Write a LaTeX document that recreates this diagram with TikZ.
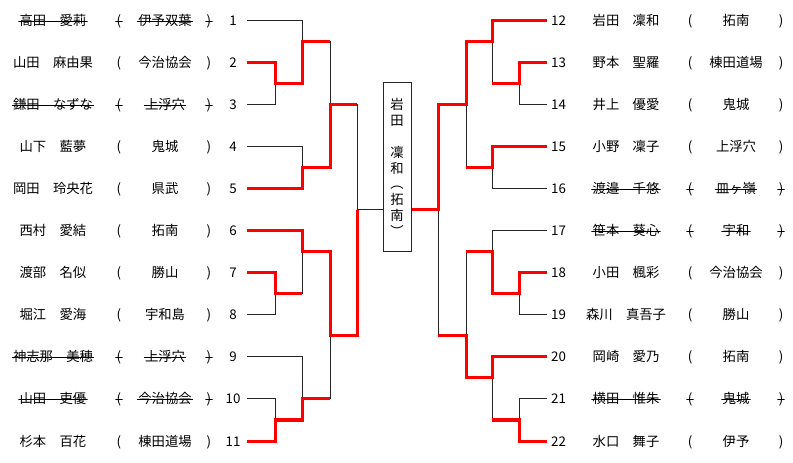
\documentclass[tikz,border=0pt]{standalone}
\usepackage{fontspec}
\setmainfont{Noto Sans CJK JP}
\begin{document}
\begin{tikzpicture}[x=0.75pt,y=-0.75pt,
  txt/.style={inner xsep=1pt, inner ysep=1pt, text height=7pt, text depth=1pt,
    font=\fontsize{10pt}{12pt}\selectfont},
  strikestyle/.style={path picture={\draw[line width=0.75pt]
    (path picture bounding box.west) -- (path picture bounding box.east);}},
  struck/.code={\ifnum#1=1\relax\pgfkeysalso{/tikz/strikestyle}\fi},
  bline/.style={line width=0.75pt, black!85},
  win/.style={line width=2.25pt, red, line join=miter},
  winnerbox/.style={draw=black!85, line width=0.75pt, minimum width=21pt,
    minimum height=126.75pt, inner sep=0pt, align=center,
    font=\fontsize{10pt}{11.9pt}\selectfont}]
\useasboundingbox (0,0) rectangle (793,463);

% ---------------- left side entries ----------------
\foreach \i/\nm/\cl/\g in {
  1/高田　愛莉/伊予双葉/1,
  2/山田　麻由果/今治協会/0,
  3/鎌田　なずな/上浮穴/1,
  4/山下　藍夢/鬼城/0,
  5/岡田　玲央花/県武/0,
  6/西村　愛結/拓南/0,
  7/渡部　名似/勝山/0,
  8/堀江　愛海/宇和島/0,
  9/神志那　美穂/上浮穴/1,
  10/山田　吏優/今治協会/1,
  11/杉本　百花/棟田道場/0}{
  \pgfmathsetmacro\yy{21+42*(\i-1)}
  \node[txt,struck=\g] (m\i) at (53,\yy+1) {\nm};
  \node[txt,struck=\g] (pl\i) at (119,\yy+1) {(};
  \node[txt,struck=\g] (c\i) at (165,\yy+1) {\cl};
  \node[txt,struck=\g] (pr\i) at (209,\yy+1) {)};
  \node[txt] (n\i) at (233,\yy+1) {\i};
  \coordinate (s\i) at (247,\yy);
}

% ---------------- right side entries ----------------
\foreach \i/\nm/\cl/\g in {
  12/岩田　凜和/拓南/0,
  13/野本　聖羅/棟田道場/0,
  14/井上　優愛/鬼城/0,
  15/小野　凜子/上浮穴/0,
  16/渡邉　千悠/皿ヶ嶺/1,
  17/笹本　葵心/宇和/1,
  18/小田　楓彩/今治協会/0,
  19/森川　真吾子/勝山/0,
  20/岡崎　愛乃/拓南/0,
  21/横田　惟朱/鬼城/1,
  22/水口　舞子/伊予/0}{
  \pgfmathsetmacro\yy{21+42*(\i-12)}
  \node[txt] (n\i) at (558.5,\yy+1) {\i};
  \node[txt,struck=\g] (m\i) at (626,\yy+1) {\nm};
  \node[txt,struck=\g] (pl\i) at (690,\yy+1) {(};
  \node[txt,struck=\g] (c\i) at (736,\yy+1) {\cl};
  \node[txt,struck=\g] (pr\i) at (781,\yy+1) {)};
  \coordinate (s\i) at (547,\yy);
}

% ---------------- winner box ----------------
\node[winnerbox] (box) at (397,167.5) {岩\\田\\　\\凜\\和\\︵\\拓\\南\\︶};

% ---------------- junctions ----------------
\coordinate (jA) at (275,84);
\coordinate (jB) at (302,42);
\coordinate (jC) at (302,168);
\coordinate (jD) at (330,105);
\coordinate (jE) at (275,294);
\coordinate (jF) at (302,252);
\coordinate (jG) at (275,420);
\coordinate (jH) at (302,399);
\coordinate (jI) at (330,336);
\coordinate (jJ) at (357,210);

\coordinate (ja) at (519,84);
\coordinate (jb) at (492,42);
\coordinate (jc) at (492,168);
\coordinate (jd) at (466,105);
\coordinate (je) at (519,294);
\coordinate (jf) at (492,252);
\coordinate (jg) at (519,420);
\coordinate (jh) at (492,378);
\coordinate (ji) at (466,336);
\coordinate (jk) at (438,210);

% ---------------- thin bracket lines ----------------
\draw[bline]
  (s2) -| (jA)  (s3) -| (jA)  (s1) -| (jB)  (jA) -| (jB)
  (s4) -| (jC)  (s5) -| (jC)  (jB) -| (jD)  (jC) -| (jD)
  (s7) -| (jE)  (s8) -| (jE)  (s6) -| (jF)  (jE) -| (jF)
  (s10) -| (jG) (s11) -| (jG) (s9) -| (jH)  (jG) -| (jH)
  (jF) -| (jI)  (jH) -| (jI)  (jD) -| (jJ)  (jI) -| (jJ)
  (jJ) -- (jJ -| box.west);
\draw[bline]
  (s13) -| (ja) (s14) -| (ja) (s12) -| (jb) (ja) -| (jb)
  (s15) -| (jc) (s16) -| (jc) (jb) -| (jd)  (jc) -| (jd)
  (s18) -| (je) (s19) -| (je) (s17) -| (jf) (je) -| (jf)
  (s21) -| (jg) (s22) -| (jg) (s20) -| (jh) (jg) -| (jh)
  (jf) -| (ji)  (jh) -| (ji)  (jd) -| (jk)  (ji) -| (jk)
  (jk) -- (jk -| box.east);

% ---------------- winner paths ----------------
\draw[win] (s2) -| (jA) -| (jB) -- (jB -| jD);
\draw[win] (s5) -| (jC) -| (jD) -- (jD -| jJ);
\draw[win] (s7) -| (jE) -- (jE -| jF);
\draw[win] (s6) -| (jF) -| (jI) -| (jJ);
\draw[win] (s11) -| (jG) -| (jH) -- (jH -| jI);

\draw[win] (s12) -| (jb) -| (jd) -| (jk) -- (jk -| box.east);
\draw[win] (s13) -| (ja) -- (ja -| jb);
\draw[win] (s15) -| (jc) -- (jc -| jd);
\draw[win] (s18) -| (je) -| (jf) -- (jf -| ji);
\draw[win] (s20) -| (jh) -| (ji) -- (ji -| jk);
\draw[win] (s22) -| (jg) -- (jg -| jh);
\end{tikzpicture}
\end{document}
